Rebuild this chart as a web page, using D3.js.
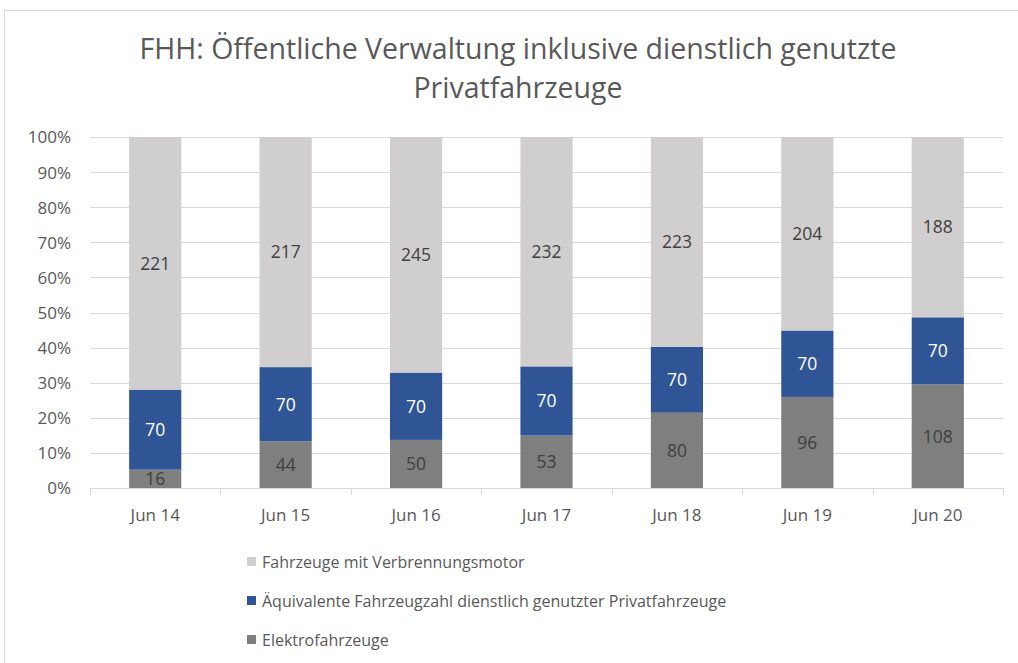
<!DOCTYPE html>
<html>
<head>
<meta charset="utf-8">
<style>
  body { margin: 0; background: #fff; }
  svg text { font-family: "Open Sans", sans-serif; }
  .grid line { stroke: #d9d9d9; stroke-width: 1; }
  .axis text { fill: #595959; font-size: 17px; }
  .label { font-size: 17.5px; text-anchor: middle; }
</style>
</head>
<body>
<svg id="chart"></svg>
<script src="https://d3js.org/d3.v7.min.js"></script>
<script>
  // categories and series
  var categories = ['Jun 14', 'Jun 15', 'Jun 16', 'Jun 17', 'Jun 18', 'Jun 19', 'Jun 20'];
  var elektro = [16, 44, 50, 53, 80, 96, 108];
  var privat = [70, 70, 70, 70, 70, 70, 70];
  var verbrenner = [221, 217, 245, 232, 223, 204, 188];
  var yTicks = [0, 0.1, 0.2, 0.3, 0.4, 0.5, 0.6, 0.7, 0.8, 0.9, 1];

  var seriesNames = ['Elektrofahrzeuge', 'Äquivalente Fahrzeugzahl dienstlich genutzter Privatfahrzeuge', 'Fahrzeuge mit Verbrennungsmotor'];
  var colors = ['#7f7f7f', '#2f5597', '#d0cece'];
  var labelColors = ['#404040', '#ffffff', '#404040'];

  var width = 1018, height = 663;
  var plotLeft = 90, plotRight = 1003, plotTop = 137, plotBottom = 488;

  var svg = d3.select('#chart').attr('width', width).attr('height', height);

  // outer chart border
  svg.append('rect')
    .attr('x', 4.5).attr('y', 10.5)
    .attr('width', 1030).attr('height', 700)
    .attr('fill', 'none').attr('stroke', '#d9d9d9');

  // title
  var title = svg.append('text')
    .attr('text-anchor', 'middle')
    .attr('fill', '#595959')
    .style('font-size', '28.5px');
  title.append('tspan').attr('x', 518).attr('y', 59).text('FHH: Öffentliche Verwaltung inklusive dienstlich genutzte');
  title.append('tspan').attr('x', 518).attr('y', 98).text('Privatfahrzeuge');

  var rows = categories.map(function (c, i) {
    return { cat: c, s0: elektro[i], s1: privat[i], s2: verbrenner[i] };
  });
  var stacked = d3.stack().keys(['s0', 's1', 's2']).offset(d3.stackOffsetExpand)(rows);

  var x = d3.scaleBand().domain(categories).range([plotLeft, plotRight]).paddingInner(0.6).paddingOuter(0.3);
  var y = d3.scaleLinear().domain([0, 1]).range([plotBottom, plotTop]);

  // gridlines
  svg.append('g').attr('class', 'grid')
    .selectAll('line')
    .data(yTicks.slice(1))
    .join('line')
    .attr('x1', plotLeft).attr('x2', plotRight)
    .attr('y1', function (d) { return Math.round(y(d)) + 0.5; })
    .attr('y2', function (d) { return Math.round(y(d)) + 0.5; });

  // y axis labels
  var yAxis = svg.append('g').attr('class', 'axis')
    .attr('transform', 'translate(' + (plotLeft - 10) + ',0)')
    .call(d3.axisLeft(y).tickValues(yTicks).tickFormat(d3.format('.0%')).tickSize(0).tickPadding(9));
  yAxis.attr('font-family', null).attr('font-size', null);
  yAxis.select('.domain').remove();
  yAxis.selectAll('text').attr('dy', '0.35em');

  // bars
  var layers = svg.append('g').selectAll('g')
    .data(stacked)
    .join('g')
    .attr('fill', function (d, i) { return colors[i]; });

  layers.selectAll('rect')
    .data(function (d) { return d; })
    .join('rect')
    .attr('x', function (d) { return x(d.data.cat); })
    .attr('width', x.bandwidth())
    .attr('y', function (d) { return y(d[1]); })
    .attr('height', function (d) { return y(d[0]) - y(d[1]); });

  // data labels
  layers.selectAll('text')
    .data(function (d, i) { return d.map(function (p) { return { p: p, key: d.key, i: i }; }); })
    .join('text')
    .attr('class', 'label')
    .attr('fill', function (d) { return labelColors[d.i]; })
    .attr('x', function (d) { return x(d.p.data.cat) + x.bandwidth() / 2; })
    .attr('y', function (d) { return y((d.p[0] + d.p[1]) / 2); })
    .attr('dy', '0.36em')
    .text(function (d) { return d.p.data[d.key]; });

  // x axis
  var step = x.step();
  var xAxis = svg.append('g').attr('class', 'axis')
    .attr('transform', 'translate(0,' + plotBottom + ')')
    .call(d3.axisBottom(x).tickSize(0).tickPadding(21));
  xAxis.attr('font-family', null).attr('font-size', null);
  xAxis.select('.domain').attr('stroke', '#d9d9d9').attr('d', 'M' + plotLeft + ',0.5H' + plotRight);
  xAxis.selectAll('text').attr('dy', '0.71em');
  xAxis.append('g').selectAll('line')
    .data(d3.range(categories.length + 1))
    .join('line')
    .attr('stroke', '#d9d9d9')
    .attr('x1', function (d) { return Math.round(plotLeft + d * step) + 0.5; })
    .attr('x2', function (d) { return Math.round(plotLeft + d * step) + 0.5; })
    .attr('y1', 0).attr('y2', 7);

  // legend
  var legendOrder = [2, 1, 0];
  var legend = svg.append('g').selectAll('g')
    .data(legendOrder)
    .join('g')
    .attr('transform', function (d, i) { return 'translate(247,' + (562 + i * 39) + ')'; });
  legend.append('rect')
    .attr('x', 0).attr('y', -5).attr('width', 9).attr('height', 9)
    .attr('fill', function (d) { return colors[d]; });
  legend.append('text')
    .attr('x', 15).attr('dy', '0.35em')
    .attr('fill', '#595959')
    .style('font-size', '16px')
    .text(function (d) { return seriesNames[d]; });
</script>
</body>
</html>
